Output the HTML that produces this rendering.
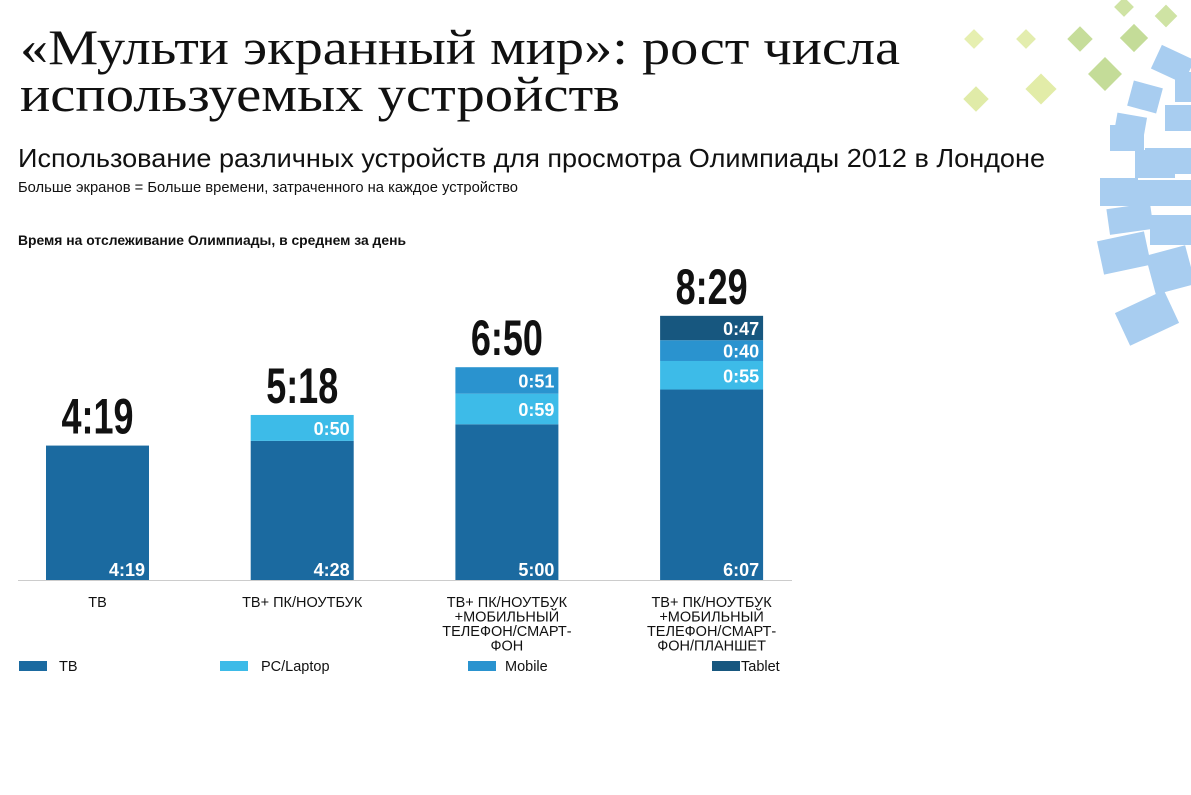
<!DOCTYPE html>
<html><head><meta charset="utf-8"><style>
body{margin:0;width:1191px;height:795px;background:#fff;overflow:hidden;font-family:"Liberation Sans","DejaVu Sans",sans-serif;}
svg{position:absolute;left:0;top:0}
</style></head><body>
<svg width="1191" height="795">
<g id="deco">
<rect x="967" y="32" width="14" height="14" fill="#e6efb0" transform="rotate(45 974 39)"/>
<rect x="1019" y="32" width="14" height="14" fill="#e3edae" transform="rotate(45 1026 39)"/>
<rect x="967" y="90" width="18" height="18" fill="#e0eba8" transform="rotate(45 976 99)"/>
<rect x="1030" y="78" width="22" height="22" fill="#e2eca8" transform="rotate(45 1041 89)"/>
<rect x="1071" y="30" width="18" height="18" fill="#c6dd9a" transform="rotate(45 1080 39)"/>
<rect x="1093" y="62" width="24" height="24" fill="#c4dc98" transform="rotate(45 1105 74)"/>
<rect x="1124" y="28" width="20" height="20" fill="#c4dc98" transform="rotate(45 1134 38)"/>
<rect x="1158" y="8" width="16" height="16" fill="#cfe3a4" transform="rotate(45 1166 16)"/>
<rect x="1117" y="0" width="14" height="14" fill="#cfe3a4" transform="rotate(45 1124 7)"/>
<g fill="#a8cdf0">
<rect x="1155" y="50" width="36" height="26" transform="rotate(25 1170 63)"/>
<rect x="1130" y="84" width="30" height="26" transform="rotate(15 1145 97)"/>
<rect x="1175" y="72" width="16" height="30"/>
<rect x="1115" y="115" width="30" height="26" transform="rotate(10 1130 128)"/>
<rect x="1165" y="105" width="26" height="26"/>
<rect x="1110" y="125" width="34" height="26"/>
<rect x="1145" y="148" width="46" height="26"/>
<rect x="1135" y="150" width="40" height="28"/>
<rect x="1100" y="178" width="38" height="28"/>
<rect x="1138" y="180" width="53" height="26"/>
<rect x="1108" y="206" width="44" height="26" transform="rotate(-8 1130 219)"/>
<rect x="1150" y="215" width="41" height="30"/>
<rect x="1100" y="236" width="48" height="34" transform="rotate(-12 1124 253)"/>
<rect x="1150" y="250" width="41" height="40" transform="rotate(-15 1170 270)"/>
<rect x="1120" y="300" width="54" height="36" transform="rotate(-25 1147 318)"/>
</g>
</g>
<text x="20" y="64" font-family="Liberation Serif,serif" font-size="50" fill="#111" textLength="880" lengthAdjust="spacingAndGlyphs">«Мульти экранный мир»: рост числа</text>
<text x="20" y="111" font-family="Liberation Serif,serif" font-size="50" fill="#111" textLength="600" lengthAdjust="spacingAndGlyphs">используемых устройств</text>
<text x="18" y="167" font-size="26" fill="#111" textLength="1027" lengthAdjust="spacingAndGlyphs">Использование различных устройств для просмотра Олимпиады 2012 в Лондоне</text>
<text x="18" y="192" font-size="14.5" fill="#111" textLength="500" lengthAdjust="spacingAndGlyphs">Больше экранов = Больше времени, затраченного на каждое устройство</text>
<text x="18" y="245" font-size="13.5" font-weight="bold" fill="#111" textLength="388" lengthAdjust="spacingAndGlyphs">Время на отслеживание Олимпиады, в среднем за день</text>
<line x1="18" y1="580.5" x2="792" y2="580.5" stroke="#ccc"/>
<g id="bars"></g>
<g id="legend"></g>
</svg>
<script>
const categories=[["ТВ"],["ТВ+ ПК/НОУТБУК"],["ТВ+ ПК/НОУТБУК","+МОБИЛЬНЫЙ","ТЕЛЕФОН/СМАРТ-","ФОН"],["ТВ+ ПК/НОУТБУК","+МОБИЛЬНЫЙ","ТЕЛЕФОН/СМАРТ-","ФОН/ПЛАНШЕТ"]];
const seriesNames=["ТВ","PC/Laptop","Mobile","Tablet"];
const tvMin=[259,268,300,367];
const pcMin=[0,50,59,55];
const mobileMin=[0,0,51,40];
const tabletMin=[0,0,0,47];
const colors=["#1b6aa0","#3dbbe8","#2a93cf","#17577f"];
const series=[tvMin,pcMin,mobileMin,tabletMin];
const NS="http://www.w3.org/2000/svg";
const base=580, scale=0.519, x0=46, step=204.7, bw=103;
const yPx=m=>m*scale;
const fmt=m=>Math.floor(m/60)+":"+String(m%60).padStart(2,"0");
function mk(t,a,p){const e=document.createElementNS(NS,t);for(const k in a)e.setAttribute(k,a[k]);p.appendChild(e);return e;}
const g=document.getElementById("bars");
categories.forEach((c,i)=>{
  const x=x0+i*step;let y=base;let total=0;
  series.forEach((s,j)=>{
    const v=s[i];if(!v)return;total+=v;
    const h=yPx(v);y-=h;
    const r=mk("rect",{x:x,y:y,width:bw,height:h,fill:colors[j]},g);
    
    
    const t=mk("text",{x:x+bw-4,y:j==0?base-4:y+h/2+7,"text-anchor":"end","font-size":"18","font-weight":"bold",fill:"#fff"},g);
    t.textContent=fmt(v);
    
    
  });
  const cx=x+bw/2, ty=y-12;
  const tt=mk("text",{x:0,y:0,"text-anchor":"middle","font-size":"50","font-weight":"bold",fill:"#111",transform:`translate(${cx},${ty}) scale(0.72,1)`},g);
  tt.textContent=fmt(total);
  
  
  c.forEach((line,k)=>{
    const l=mk("text",{x:cx,y:607+k*14.5,"text-anchor":"middle","font-size":"14.5",fill:"#111"},g);
    l.textContent=line;
    
    
  });
});
const lg=document.getElementById("legend");
const lx=[19,220,468,712];
const tx=[59,261,505,741];
seriesNames.forEach((n,i)=>{
  const r=mk("rect",{x:lx[i],y:661,width:28,height:10,fill:colors[i]},lg);
  
  
  const t=mk("text",{x:tx[i],y:671,"font-size":"14.5",fill:"#111"},lg);
  t.textContent=n;
  
  
});
</script>
</body></html>
